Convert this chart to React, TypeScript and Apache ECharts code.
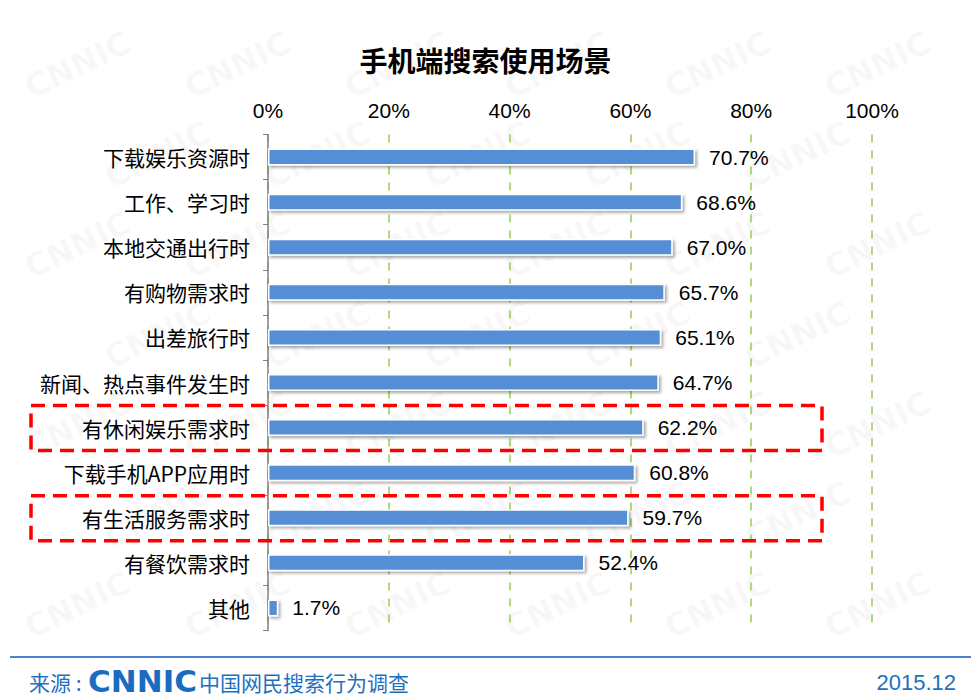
import React, { useEffect, useRef } from "react";
import * as echarts from "echarts";

const categories = [
  "下载娱乐资源时",
  "工作、学习时",
  "本地交通出行时",
  "有购物需求时",
  "出差旅行时",
  "新闻、热点事件发生时",
  "有休闲娱乐需求时",
  "下载手机APP应用时",
  "有生活服务需求时",
  "有餐饮需求时",
  "其他",
];
const values = [70.7, 68.6, 67.0, 65.7, 65.1, 64.7, 62.2, 60.8, 59.7, 52.4, 1.7];
const highlighted = ["有休闲娱乐需求时", "有生活服务需求时"];
const title = "手机端搜索使用场景";
const sourceText = "中国网民搜索行为调查";
const dateText = "2015.12";

export default function App() {
  const ref = useRef<HTMLDivElement>(null);
  useEffect(() => {
    if (!ref.current) return;
    const chart = echarts.init(ref.current, undefined, { renderer: "svg" });
    const font = "'Liberation Sans', 'Noto Sans CJK SC', sans-serif";

    const watermarks: any[] = [];
    for (let r = 0; r < 7; r++) {
      for (let c = 0; c < 6; c++) {
        const x = c * 160 + (r % 2 === 0 ? 20 : 100);
        const y = r * 90 + 75;
        if (x > 840 || y > 620) continue;
        watermarks.push({
          type: "text",
          x,
          y,
          rotation: Math.PI / 7,
          silent: true,
          z: -10,
          style: {
            text: "CNNIC",
            fill: "rgba(0,0,0,0.035)",
            font: "bold 32px 'DejaVu Sans', sans-serif",
          },
        });
      }
    }

    chart.setOption({
      animation: false,
      backgroundColor: "#ffffff",
      title: {
        text: title,
        left: "center",
        top: 41,
        textStyle: {
          fontSize: 28,
          fontWeight: "bold",
          color: "#000",
          fontFamily: "'Noto Sans CJK SC', sans-serif",
        },
      },
      grid: { left: 268, right: 99, top: 134.5, bottom: 68.5, containLabel: false },
      xAxis: {
        type: "value",
        position: "top",
        min: 0,
        max: 100,
        interval: 20,
        axisLine: { show: false },
        axisTick: { show: false },
        axisLabel: {
          formatter: "{value}%",
          fontSize: 21,
          color: "#000",
          fontFamily: font,
          margin: 14,
        },
        splitLine: {
          show: true,
          lineStyle: { color: "#92d050", type: [8, 8], width: 1.5 },
        },
      },
      yAxis: {
        type: "category",
        inverse: true,
        data: categories,
        axisLine: { show: true, lineStyle: { color: "#808080", width: 1.5 } },
        axisTick: { show: true, length: 5, lineStyle: { color: "#808080" } },
        axisLabel: {
          fontSize: 21,
          color: "#000",
          fontFamily: "'Noto Sans CJK SC', sans-serif",
          margin: 18,
        },
      },
      series: [
        {
          type: "bar",
          data: values,
          barWidth: 17,
          itemStyle: {
            color: "#558ed5",
            borderColor: "#ffffff",
            borderWidth: 1.5,
            shadowColor: "rgba(0,0,0,0.35)",
            shadowBlur: 3,
            shadowOffsetX: 2,
            shadowOffsetY: 2,
          },
          label: {
            show: true,
            position: "right",
            distance: 14,
            formatter: (p: any) => p.value.toFixed(1) + "%",
            fontSize: 21,
            color: "#000",
            fontFamily: font,
          },
        },
      ],
      graphic: [
        ...watermarks,
        ...highlighted.map((name) => {
          const idx = categories.indexOf(name);
          const cy = 134.5 + (idx + 0.5) * (496 / categories.length);
          return {
            type: "rect",
            shape: { x: 31, y: cy - 22, width: 791, height: 45 },
            z: 100,
            style: {
              fill: "none",
              stroke: "#ff0000",
              lineWidth: 3.5,
              lineDash: [14, 8],
            },
          };
        }),
        {
          type: "line",
          shape: { x1: 10, y1: 657, x2: 971, y2: 657 },
          style: { stroke: "#4f81d0", lineWidth: 2 },
        },
        {
          type: "text",
          x: 29,
          y: 671,
          style: {
            text: "来源 :",
            fill: "#1f6fbf",
            font: "21px 'Noto Sans CJK SC', sans-serif",
          },
        },
        {
          type: "text",
          x: 88,
          y: 665,
          style: {
            text: "CNNIC",
            fill: "#1a6cc0",
            font: "bold 31px 'DejaVu Sans', sans-serif",
          },
        },
        {
          type: "text",
          x: 199,
          y: 671,
          style: {
            text: sourceText,
            fill: "#1f6fbf",
            font: "21px 'Noto Sans CJK SC', sans-serif",
          },
        },
        {
          type: "text",
          x: 956,
          y: 671,
          style: {
            text: dateText,
            fill: "#1f6fbf",
            align: "right",
            font: "22px 'Liberation Sans', sans-serif",
          },
        },
      ],
    });
    return () => chart.dispose();
  }, []);
  return <div ref={ref} style={{ width: 971, height: 699, position: "absolute", left: 0, top: 0 }} />;
}
